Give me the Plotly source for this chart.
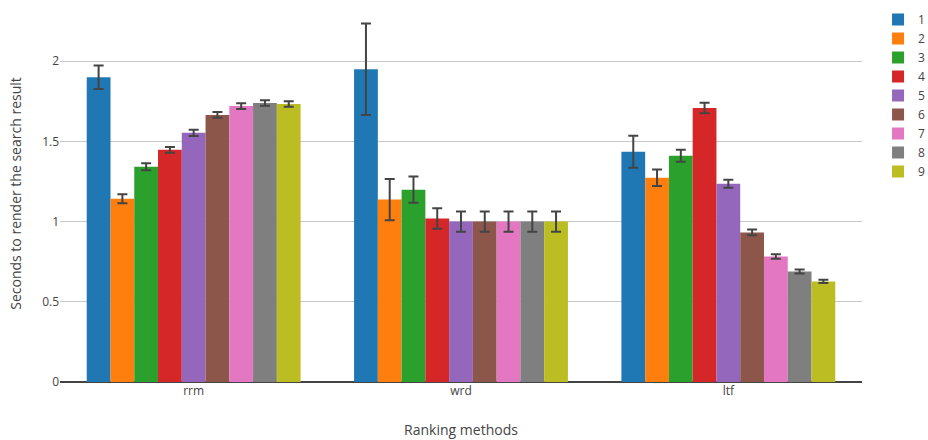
import plotly.graph_objects as go

categories = ["rrm", "wrd", "ltf"]
series_names = ["1", "2", "3", "4", "5", "6", "7", "8", "9"]

values = {
    "1": [1.900, 1.950, 1.435],
    "2": [1.143, 1.137, 1.273],
    "3": [1.342, 1.199, 1.410],
    "4": [1.447, 1.019, 1.708],
    "5": [1.553, 1.000, 1.236],
    "6": [1.665, 1.000, 0.932],
    "7": [1.720, 1.000, 0.783],
    "8": [1.739, 1.000, 0.689],
    "9": [1.733, 1.000, 0.627],
}

errors = {
    "1": [0.073, 0.285, 0.100],
    "2": [0.028, 0.128, 0.052],
    "3": [0.022, 0.082, 0.037],
    "4": [0.018, 0.064, 0.033],
    "5": [0.019, 0.063, 0.025],
    "6": [0.018, 0.063, 0.018],
    "7": [0.018, 0.063, 0.014],
    "8": [0.017, 0.063, 0.012],
    "9": [0.017, 0.063, 0.010],
}

colors = ["#1f77b4", "#ff7f0e", "#2ca02c", "#d62728", "#9467bd",
          "#8c564b", "#e377c2", "#7f7f7f", "#bcbd22"]

fig = go.Figure()
for name, color in zip(series_names, colors):
    fig.add_trace(go.Bar(
        name=name,
        x=categories,
        y=values[name],
        marker=dict(color=color, line=dict(width=0)),
        error_y=dict(type="data", array=errors[name], visible=True,
                     color="#444", thickness=2, width=5),
    ))

fig.update_layout(
    template="none",
    barmode="group",
    bargap=0.2,
    bargroupgap=0,
    width=928,
    height=440,
    paper_bgcolor="white",
    plot_bgcolor="white",
    font=dict(family="Open Sans, sans-serif", size=12, color="#444"),
    margin=dict(l=60, r=66, t=5, b=58, autoexpand=False),
    legend=dict(x=1.02, y=1, xanchor="left", yanchor="top",
                font=dict(size=12, color="#444")),
    xaxis=dict(
        title=dict(text="Ranking methods", font=dict(size=14), standoff=27),
        showgrid=False,
        showline=False,
        ticks="",
        zeroline=False,
        automargin=False,
    ),
    yaxis=dict(
        title=dict(text="Seconds to render the search result", font=dict(size=14), standoff=17),
        range=[0, 2.35],
        tickvals=[0, 0.5, 1, 1.5, 2],
        ticktext=["0", "0.5", "1", "1.5", "2"],
        showgrid=True,
        gridcolor="#c8c8c8",
        gridwidth=1,
        zeroline=True,
        zerolinecolor="#444",
        zerolinewidth=2,
        showline=False,
        ticks="",
        automargin=False,
    ),
)

fig.write_html(
    "out.html",
    config={"displayModeBar": False},
    post_script="document.body.style.margin='0';document.body.style.overflow='hidden';",
)
